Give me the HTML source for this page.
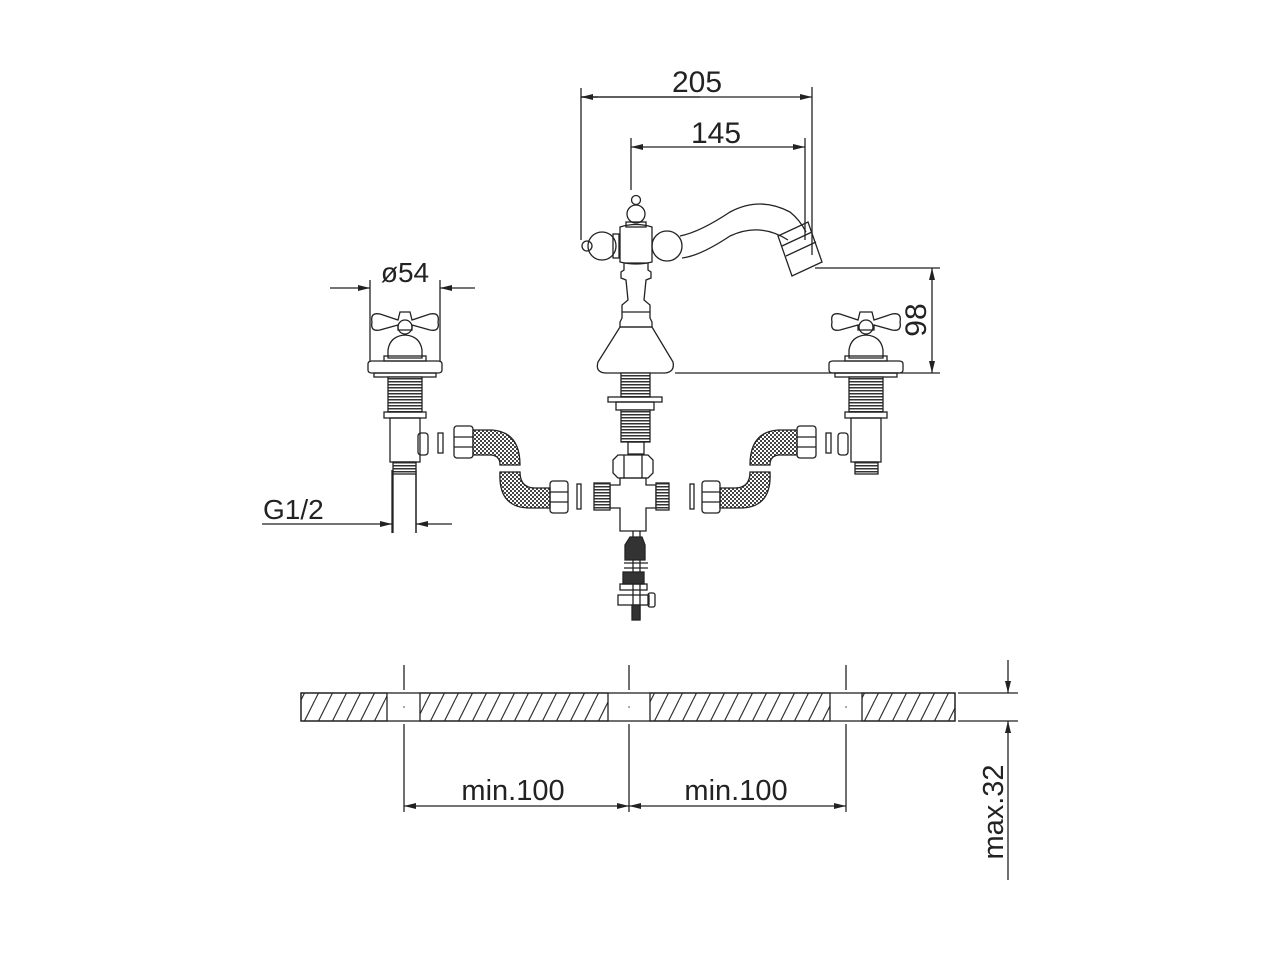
<!DOCTYPE html>
<html><head><meta charset="utf-8"><style>
html,body{margin:0;padding:0;background:#fff}
svg{display:block}
text{font-family:"Liberation Sans",sans-serif;fill:#222}
</style></head><body>
<svg width="1280" height="960" viewBox="0 0 1280 960" xmlns="http://www.w3.org/2000/svg">
<defs>
<pattern id="hatch" width="14" height="28" patternUnits="userSpaceOnUse">
<path d="M-7,28 L7,0 M7,28 L21,0" stroke="#333" stroke-width="1.2"/>
</pattern>
<pattern id="mesh" width="4" height="4" patternUnits="userSpaceOnUse">
<rect width="4" height="4" fill="#fff"/><rect width="2" height="2" fill="#444"/><rect x="2" y="2" width="2" height="2" fill="#444"/>
</pattern>
<pattern id="thr" width="4" height="3" patternUnits="userSpaceOnUse">
<rect width="4" height="3" fill="#fff"/><rect width="4" height="1.5" fill="#333"/>
</pattern>
<marker id="ar" markerWidth="12" markerHeight="6" refX="12" refY="3" orient="auto" markerUnits="userSpaceOnUse">
<path d="M0,0 L12,3 L0,6z" fill="#222"/></marker>
</defs>
<g stroke="#222" stroke-width="1.3" fill="none">
<!-- 205 / 145 -->
<line x1="581" y1="88" x2="581" y2="240"/><line x1="812" y1="87" x2="812" y2="255"/>
<line x1="598" y1="97" x2="581" y2="97"/>
<line x1="581" y1="97" x2="812" y2="97" marker-end="url(#ar)"/>
<line x1="700" y1="97" x2="581" y2="97" marker-end="url(#ar)"/>
<line x1="631" y1="138" x2="631" y2="190"/><line x1="805" y1="138" x2="805" y2="240"/>
<line x1="700" y1="147" x2="805" y2="147" marker-end="url(#ar)"/>
<line x1="700" y1="147" x2="631" y2="147" marker-end="url(#ar)"/>
<!-- 98 -->
<line x1="815" y1="268" x2="940" y2="268"/><line x1="675" y1="373" x2="940" y2="373"/>
<line x1="932" y1="320" x2="932" y2="268" marker-end="url(#ar)"/>
<line x1="932" y1="320" x2="932" y2="373" marker-end="url(#ar)"/>
<!-- Ø54 -->
<line x1="370" y1="280" x2="370" y2="362"/><line x1="440" y1="280" x2="440" y2="362"/>
<line x1="330" y1="288" x2="370" y2="288" marker-end="url(#ar)"/>
<line x1="475" y1="288" x2="440" y2="288" marker-end="url(#ar)"/>
<!-- G1/2 -->
<line x1="392" y1="470" x2="392" y2="533"/><line x1="416" y1="470" x2="416" y2="533"/>
<line x1="262" y1="524" x2="392" y2="524" marker-end="url(#ar)"/>
<line x1="452" y1="524" x2="416" y2="524" marker-end="url(#ar)"/>

<!-- spout -->
<circle cx="636" cy="200" r="4.5"/>
<circle cx="636" cy="214" r="9"/>
<rect x="626" y="222" width="20" height="5"/>
<path d="M620,227 Q636,222 652,227 L652,262 Q636,266 620,262 Z"/>
<circle cx="602" cy="246" r="14"/>
<circle cx="587" cy="246" r="5"/>
<rect x="613" y="234" width="6" height="24"/>
<circle cx="667" cy="246" r="15"/>
<path d="M680,236 Q700,232 730,212 Q760,196 790,212 Q800,220 806,232"/>
<path d="M682,258 Q700,256 730,236 Q760,222 788,240"/>
<path d="M778,236 L808,222 L822,262 L792,276 Z"/>
<line x1="782" y1="246" x2="812" y2="232"/><line x1="786" y1="256" x2="816" y2="242"/>
<!-- column -->
<path d="M624,263 L648,263 L648,270 L651,272 L651,278 L646,280 L644,300 L650,305 L650,318 L652,322 L652,327 L620,327 L620,322 L622,318 L622,305 L628,300 L626,280 L621,278 L621,272 L624,270 Z"/>
<line x1="622" y1="312" x2="650" y2="312"/>
<path d="M620,327 L652,327 L673,362 Q675,372 665,373 L605,373 Q595,372 598,362 Z"/>
<rect x="621" y="373" width="29" height="24" fill="url(#thr)"/>
<rect x="608" y="397" width="54" height="5"/>
<rect x="616" y="402" width="38" height="8"/>
<rect x="621" y="410" width="29" height="32" fill="url(#thr)"/>
<rect x="628" y="442" width="16" height="12"/>
<!-- tee -->
<path d="M613,460 L618,455 L648,455 L653,460 L653,473 L648,478 L618,478 L613,473 Z"/>
<line x1="624" y1="455" x2="624" y2="478"/><line x1="642" y1="455" x2="642" y2="478"/>
<path d="M620,478 L646,478 L646,485 L656,485 L656,508 L646,508 L646,531 L620,531 L620,508 L610,508 L610,485 L620,485 Z"/>
<rect x="594" y="483" width="16" height="27" fill="url(#thr)"/>
<rect x="656" y="483" width="13" height="27" fill="url(#thr)"/>
<line x1="633" y1="531" x2="633" y2="620"/><line x1="640" y1="531" x2="640" y2="620"/>
<path d="M625,545 L630,537 L642,537 L645,545 L645,560 L625,560 Z" fill="#333"/>
<line x1="624" y1="563" x2="648" y2="563"/><line x1="624" y1="568" x2="648" y2="568"/>
<rect x="623" y="572" width="21" height="12" fill="#333"/>
<rect x="620" y="584" width="27" height="6"/>
<rect x="618" y="595" width="31" height="10"/>
<rect x="648" y="593" width="7" height="14" rx="2"/>
<rect x="632" y="605" width="8" height="15" fill="#333"/>

<!-- left tap -->
<path d="M372,322 Q370,312 380,314 L398,320 L400,312 L410,312 L412,320 L430,314 Q440,312 438,322 Q440,332 430,330 L412,325 L412,330 L398,330 L398,325 L380,330 Q370,332 372,322 Z"/>
<circle cx="405" cy="327" r="7"/>
<path d="M388,358 L388,350 Q390,336 405,335 Q420,336 422,350 L422,358 Z"/>
<rect x="384" y="356" width="42" height="5"/>
<path d="M368,370 L368,364 Q368,361 372,361 L438,361 Q442,361 442,364 L442,370 Q442,373 438,373 L372,373 Q368,373 368,370 Z"/>
<rect x="374" y="373" width="62" height="4"/>
<rect x="388" y="377" width="34" height="35" fill="url(#thr)"/>
<rect x="384" y="412" width="42" height="6"/>
<rect x="390" y="418" width="30" height="44"/>
<rect x="418" y="433" width="10" height="22" rx="3"/>
<rect x="393" y="462" width="23" height="12" fill="url(#thr)"/>
<line x1="393" y1="474" x2="393" y2="533"/><line x1="416" y1="474" x2="416" y2="533"/>
<rect x="438" y="433" width="5" height="20"/>
<!-- left hoses -->
<rect x="454" y="426" width="19" height="32" rx="3"/>
<line x1="454" y1="437" x2="473" y2="437"/><line x1="454" y1="447" x2="473" y2="447"/>
<path d="M473,430 L492,430 Q520,432 520,465 L500,465 Q500,455 490,455 L473,455 Z" fill="url(#mesh)"/>
<path d="M500,472 L520,472 Q520,488 535,488 L550,488 L550,508 L530,508 Q498,508 500,472 Z" fill="url(#mesh)"/>
<rect x="550" y="481" width="18" height="32" rx="3"/>
<line x1="550" y1="492" x2="568" y2="492"/><line x1="550" y1="502" x2="568" y2="502"/>
<rect x="577" y="484" width="4" height="25"/>
<!-- right hoses -->
<rect x="797" y="426" width="19" height="32" rx="3"/>
<line x1="797" y1="437" x2="816" y2="437"/><line x1="797" y1="447" x2="816" y2="447"/>
<path d="M797,430 L778,430 Q750,432 750,465 L770,465 Q770,455 780,455 L797,455 Z" fill="url(#mesh)"/>
<path d="M770,472 L750,472 Q750,488 735,488 L720,488 L720,508 L740,508 Q772,508 770,472 Z" fill="url(#mesh)"/>
<rect x="702" y="481" width="18" height="32" rx="3"/>
<line x1="702" y1="492" x2="720" y2="492"/><line x1="702" y1="502" x2="720" y2="502"/>
<rect x="690" y="484" width="4" height="25"/>
<rect x="826" y="433" width="5" height="20"/>
<!-- right tap -->
<path d="M832,322 Q830,312 840,314 L858,320 L860,312 L872,312 L874,320 L892,314 Q902,312 900,322 Q902,332 892,330 L874,325 L874,330 L858,330 L858,325 L840,330 Q830,332 832,322 Z"/>
<circle cx="866" cy="327" r="7"/>
<path d="M849,358 L849,350 Q851,336 866,335 Q881,336 883,350 L883,358 Z"/>
<rect x="845" y="356" width="42" height="5"/>
<path d="M829,370 L829,364 Q829,361 833,361 L899,361 Q903,361 903,364 L903,370 Q903,373 899,373 L833,373 Q829,373 829,370 Z"/>
<rect x="835" y="373" width="62" height="4"/>
<rect x="849" y="377" width="34" height="35" fill="url(#thr)"/>
<rect x="845" y="412" width="42" height="6"/>
<rect x="851" y="418" width="30" height="44"/>
<rect x="838" y="433" width="10" height="22" rx="3"/>
<rect x="855" y="462" width="23" height="12" fill="url(#thr)"/>

<!-- slab -->
<rect x="301" y="693" width="86" height="28" fill="url(#hatch)"/>
<rect x="420" y="693" width="188" height="28" fill="url(#hatch)"/>
<rect x="650" y="693" width="180" height="28" fill="url(#hatch)"/>
<rect x="862" y="693" width="93" height="28" fill="url(#hatch)"/>
<rect x="301" y="693" width="654" height="28"/>
<line x1="404" y1="665" x2="404" y2="690"/><line x1="629" y1="665" x2="629" y2="690"/><line x1="846" y1="665" x2="846" y2="690"/>
<line x1="404" y1="724" x2="404" y2="812"/><line x1="629" y1="724" x2="629" y2="812"/><line x1="846" y1="724" x2="846" y2="812"/>
<line x1="515" y1="806" x2="404" y2="806" marker-end="url(#ar)"/>
<line x1="515" y1="806" x2="629" y2="806" marker-end="url(#ar)"/>
<line x1="738" y1="806" x2="629" y2="806" marker-end="url(#ar)"/>
<line x1="738" y1="806" x2="846" y2="806" marker-end="url(#ar)"/>
<line x1="958" y1="693" x2="1018" y2="693"/><line x1="958" y1="721" x2="1018" y2="721"/>
<line x1="1008" y1="660" x2="1008" y2="693" marker-end="url(#ar)"/>
<line x1="1008" y1="880" x2="1008" y2="721" marker-end="url(#ar)"/>
</g>
<g fill="#444">
<circle cx="404" cy="707" r="0.8"/><circle cx="629" cy="707" r="0.8"/><circle cx="846" cy="707" r="0.8"/>
</g>
<text x="697" y="92" font-size="30" text-anchor="middle">205</text>
<text x="716" y="143" font-size="30" text-anchor="middle">145</text>
<text x="405" y="282" font-size="28" text-anchor="middle">ø54</text>
<text x="263" y="519" font-size="28">G1/2</text>
<text x="513" y="800" font-size="29" text-anchor="middle">min.100</text>
<text x="736" y="800" font-size="29" text-anchor="middle">min.100</text>
<text transform="translate(926,320) rotate(-90)" font-size="30" text-anchor="middle">98</text>
<text transform="translate(1003,812) rotate(-90)" font-size="29" text-anchor="middle">max.32</text>
</svg>
</body></html>
